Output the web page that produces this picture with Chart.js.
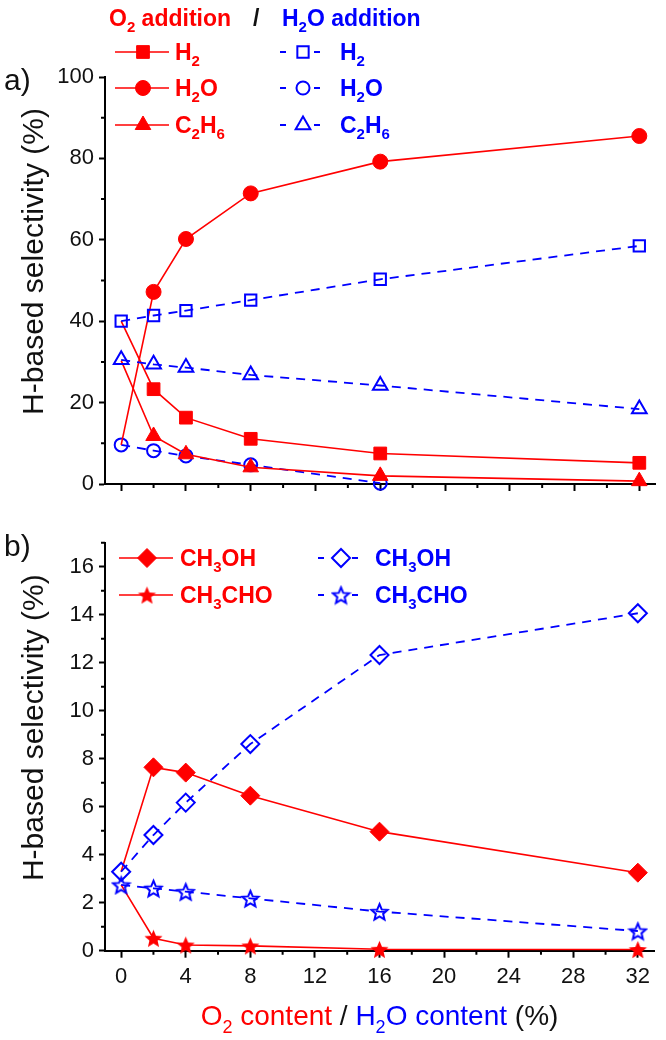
<!DOCTYPE html>
<html lang="en">
<head>
<meta charset="UTF-8">
<title>H-based selectivity vs O2 / H2O content</title>
<script src="https://cdn.jsdelivr.net/npm/chart.js"></script>
<style>
  body { margin: 0; background: #fff; }
  .panel { position: absolute; left: 0; width: 666px; height: 520px; }
  #panelA { top: 0; }
  #panelB { top: 520px; }
</style>
</head>
<body>
<div class="panel" id="panelA"><canvas id="chartA" width="666" height="520"></canvas></div>
<div class="panel" id="panelB"><canvas id="chartB" width="666" height="520"></canvas></div>
<script>
// O2 or H2O content in the feed (%)
const content = [0, 2, 4, 8, 16, 32];

// panel a: H-based selectivity (%)
const o2H2    = [40.0, 23.3, 16.3, 11.1, 7.5, 5.2];
const o2H2O   = [9.6, 47.2, 60.2, 71.4, 79.2, 85.5];
const o2C2H6  = [30.3, 11.8, 7.3, 4.1, 2.0, 0.7];
const h2oH2   = [40.0, 41.4, 42.6, 45.2, 50.3, 58.5];
const h2oH2O  = [9.6, 8.2, 6.9, 4.7, 0.2, null];
const h2oC2H6 = [30.5, 29.4, 28.6, 26.8, 24.2, 18.4];

// panel b: H-based selectivity (%)
const o2MeOH  = [3.3, 7.64, 7.42, 6.46, 4.96, 3.25];
const o2AcH   = [2.74, 0.52, 0.24, 0.2, 0.06, 0.05];
const h2oMeOH = [3.29, 4.82, 6.17, 8.61, 12.32, 14.06];
const h2oAcH  = [2.74, 2.6, 2.46, 2.18, 1.63, 0.82];

// ticks
const xMajor  = [0, 4, 8, 12, 16, 20, 24, 28, 32];
const xMinor  = [2, 6, 10, 14, 18, 22, 26, 30];
const yMajorA = [0, 20, 40, 60, 80, 100];
const yMinorA = [10, 30, 50, 70, 90];
const yMajorB = [0, 2, 4, 6, 8, 10, 12, 14, 16];
const yMinorB = [1, 3, 5, 7, 9, 11, 13, 15, 17];

const RED = '#ff0000';
const BLUE = '#0000ff';
const FONT = '"Liberation Sans", Arial, sans-serif';

function makeStar(size, fill, stroke, lw) {
  const c = document.createElement('canvas');
  c.width = size; c.height = size;
  const g = c.getContext('2d');
  const R = size / 2 - lw, r = R * 0.45, cx = size / 2, cy = size / 2 + 1;
  g.beginPath();
  for (let i = 0; i < 10; i++) {
    const a = -Math.PI / 2 + i * Math.PI / 5;
    const rr = i % 2 ? r : R;
    g.lineTo(cx + rr * Math.cos(a), cy + rr * Math.sin(a));
  }
  g.closePath();
  if (fill) { g.fillStyle = fill; g.fill(); }
  if (stroke) { g.strokeStyle = stroke; g.lineWidth = lw; g.lineJoin = 'miter'; g.stroke(); }
  return c;
}
const redStar = makeStar(21, RED, null, 1);
const blueStar = makeStar(21, null, BLUE, 2);

const pts = ys => content.map((x, i) => ({ x: x, y: ys[i] }));

// red series hide the marker at 0 % (blue one sits there)
const skip0 = r => (c => c.dataIndex === 0 ? 0 : r);

function redSet(label, ys, style, r) {
  return {
    label: label, data: pts(ys), borderColor: RED, backgroundColor: RED,
    borderWidth: 1.6, pointStyle: style, pointRadius: skip0(r),
    pointBackgroundColor: RED, pointBorderColor: RED, pointBorderWidth: 1,
    legendRadius: r, clip: false
  };
}
function blueSet(label, ys, style, r) {
  return {
    label: label, data: pts(ys), borderColor: BLUE, backgroundColor: 'rgba(0,0,0,0)',
    borderWidth: 1.8, borderDash: [9, 7], pointStyle: style, pointRadius: r,
    pointBackgroundColor: 'rgba(0,0,0,0)', pointBorderColor: BLUE, pointBorderWidth: 2,
    legendRadius: r, clip: false
  };
}

// text with _N subscripts, pieces = [[text, colour], ...]
function drawRich(ctx, pieces, x, y, size, weight, align) {
  const subSize = Math.round(size * 0.65);
  const runs = [];
  pieces.forEach(([s, col]) => {
    s.split(/_(\d)/).forEach((t, i) => { if (t) runs.push({ t: t, sub: i % 2 === 1, col: col }); });
  });
  let w = 0;
  runs.forEach(r => {
    ctx.font = weight + ' ' + (r.sub ? subSize : size) + 'px ' + FONT;
    r.w = ctx.measureText(r.t).width; w += r.w;
  });
  let cx = align === 'center' ? x - w / 2 : x;
  ctx.textAlign = 'left';
  ctx.textBaseline = 'alphabetic';
  runs.forEach(r => {
    ctx.font = weight + ' ' + (r.sub ? subSize : size) + 'px ' + FONT;
    ctx.fillStyle = r.col;
    ctx.fillText(r.t, cx, y + (r.sub ? size * 0.28 : 0));
    cx += r.w;
  });
}

function marker(ctx, ds, x, y) {
  ctx.save();
  ctx.fillStyle = ds.pointBackgroundColor;
  ctx.strokeStyle = ds.pointBorderColor;
  ctx.lineWidth = ds.pointBorderWidth;
  Chart.helpers.drawPoint(ctx, {
    pointStyle: ds.pointStyle, radius: ds.legendRadius, rotation: 0,
    borderWidth: ds.pointBorderWidth
  }, x, y);
  ctx.restore();
}

const decor = {
  id: 'decor',
  afterDraw(chart, args, o) {
    const ctx = chart.ctx, a = chart.chartArea;
    const xs = chart.scales.x, ys = chart.scales.y;
    ctx.save();
    // minor ticks
    ctx.strokeStyle = '#000'; ctx.lineWidth = 2;
    ctx.beginPath();
    o.xMinor.forEach(v => { const p = xs.getPixelForValue(v); ctx.moveTo(p, a.bottom); ctx.lineTo(p, a.bottom + 4); });
    o.yMinor.forEach(v => { const p = ys.getPixelForValue(v); ctx.moveTo(a.left - 4, p); ctx.lineTo(a.left, p); });
    ctx.stroke();

    // y title
    ctx.save();
    ctx.translate(o.yTitleX, (a.top + a.bottom) / 2 - 19);
    ctx.rotate(-Math.PI / 2);
    ctx.font = '30px ' + FONT;
    ctx.fillStyle = '#111';
    ctx.textAlign = 'center';
    ctx.textBaseline = 'middle';
    ctx.fillText('H-based selectivity (%)', 0, 0);
    ctx.restore();

    // panel letter
    ctx.font = '30px ' + FONT;
    ctx.fillStyle = '#111';
    ctx.textAlign = 'left';
    ctx.textBaseline = 'middle';
    ctx.fillText(o.letter, 4, o.letterY);

    if (o.header) {
      drawRich(ctx, [['O_2 addition', RED]], 109, 26, 23, 'bold', 'left');
      drawRich(ctx, [['/', '#111']], 253, 26, 23, 'bold', 'left');
      drawRich(ctx, [['H_2O addition', BLUE]], 282, 26, 23, 'bold', 'left');
    }
    if (o.xTitle) {
      drawRich(ctx, [['O_2 content', RED], [' / ', '#111'], ['H_2O content', BLUE], [' (%)', '#111']],
        (a.left + a.right) / 2, 505, 28, 'normal', 'center');
    }

    // legend
    const sets = chart.data.datasets;
    o.legend.forEach(e => {
      const ds = sets[e.ds];
      ctx.save();
      ctx.strokeStyle = ds.borderColor;
      ctx.lineWidth = ds.borderWidth;
      ctx.beginPath();
      if (e.dashed) {
        ctx.moveTo(e.mx - 23, e.y); ctx.lineTo(e.mx - 17, e.y);
        ctx.moveTo(e.mx + 11, e.y); ctx.lineTo(e.mx + 17, e.y);
      } else {
        ctx.moveTo(e.mx - 28, e.y); ctx.lineTo(e.mx + 26, e.y);
      }
      ctx.stroke();
      ctx.restore();
      marker(ctx, ds, e.mx, e.y);
      drawRich(ctx, [[e.text, ds.borderColor]], e.tx, e.y + 8, 23, 'bold', 'left');
    });
    ctx.restore();
  }
};

function scalesFor(yMax, yMajor, showX, xHeight) {
  const tickFont = { family: FONT, size: 22 };
  return {
    x: {
      type: 'linear', min: -1, max: 33,
      afterBuildTicks: s => { s.ticks = xMajor.map(v => ({ value: v })); },
      afterFit: s => { s.height = xHeight; },
      border: { color: '#000', width: 2 },
      grid: { drawOnChartArea: false, drawTicks: true, tickLength: 7, tickWidth: 2, tickColor: '#000' },
      ticks: { display: showX, color: '#111', font: tickFont, padding: 6, maxRotation: 0 }
    },
    y: {
      type: 'linear', min: 0, max: yMax,
      afterBuildTicks: s => { s.ticks = yMajor.map(v => ({ value: v })); },
      afterFit: s => { s.width = 105; },
      border: { color: '#000', width: 2 },
      grid: { drawOnChartArea: false, drawTicks: true, tickLength: 6, tickWidth: 2, tickColor: '#000' },
      ticks: { color: '#111', font: tickFont, padding: 5 }
    }
  };
}

// panel a (index 0 is drawn on top)
new Chart(document.getElementById('chartA'), {
  type: 'line',
  data: {
    datasets: [
      blueSet('H2 (H2O addition)', h2oH2, 'rect', 8),
      blueSet('C2H6 (H2O addition)', h2oC2H6, 'triangle', 8.5),
      redSet('H2 (O2 addition)', o2H2, 'rect', 9),
      redSet('H2O (O2 addition)', o2H2O, 'circle', 7.5),
      redSet('C2H6 (O2 addition)', o2C2H6, 'triangle', 9),
      blueSet('H2O (H2O addition)', h2oH2O, 'circle', 6.5)
    ]
  },
  options: {
    responsive: false, animation: false, events: [],
    layout: { padding: { left: 0, right: 6, top: 77, bottom: 0 } },
    scales: scalesFor(100, yMajorA, false, 36),
    plugins: {
      legend: { display: false }, tooltip: { enabled: false },
      decor: {
        xMinor: xMinor, yMinor: yMinorA, yTitleX: 35, letter: 'a)', letterY: 82, header: true,
        legend: [
          { ds: 2, mx: 143, y: 52, tx: 175, text: 'H_2' },
          { ds: 3, mx: 143, y: 88, tx: 175, text: 'H_2O' },
          { ds: 4, mx: 143, y: 125, tx: 175, text: 'C_2H_6' },
          { ds: 0, mx: 303, y: 52, tx: 340, text: 'H_2', dashed: true },
          { ds: 5, mx: 303, y: 88, tx: 340, text: 'H_2O', dashed: true },
          { ds: 1, mx: 303, y: 125, tx: 340, text: 'C_2H_6', dashed: true }
        ]
      }
    }
  },
  plugins: [decor]
});

// panel b
new Chart(document.getElementById('chartB'), {
  type: 'line',
  data: {
    datasets: [
      blueSet('CH3OH (H2O addition)', h2oMeOH, 'rectRot', 9),
      blueSet('CH3CHO (H2O addition)', h2oAcH, blueStar, 10),
      redSet('CH3OH (O2 addition)', o2MeOH, 'rectRot', 9.5),
      redSet('CH3CHO (O2 addition)', o2AcH, redStar, 10)
    ]
  },
  options: {
    responsive: false, animation: false, events: [],
    layout: { padding: { left: 0, right: 6, top: 22.7, bottom: 0 } },
    scales: scalesFor(17, yMajorB, true, 89.3),
    plugins: {
      legend: { display: false }, tooltip: { enabled: false },
      decor: {
        xMinor: xMinor, yMinor: yMinorB, yTitleX: 35, letter: 'b)', letterY: 28, header: false, xTitle: true,
        legend: [
          { ds: 2, mx: 147, y: 38, tx: 180, text: 'CH_3OH' },
          { ds: 3, mx: 147, y: 75, tx: 180, text: 'CH_3CHO' },
          { ds: 0, mx: 341, y: 38, tx: 375, text: 'CH_3OH', dashed: true },
          { ds: 1, mx: 341, y: 75, tx: 375, text: 'CH_3CHO', dashed: true }
        ]
      }
    }
  },
  plugins: [decor]
});
</script>
</body>
</html>
